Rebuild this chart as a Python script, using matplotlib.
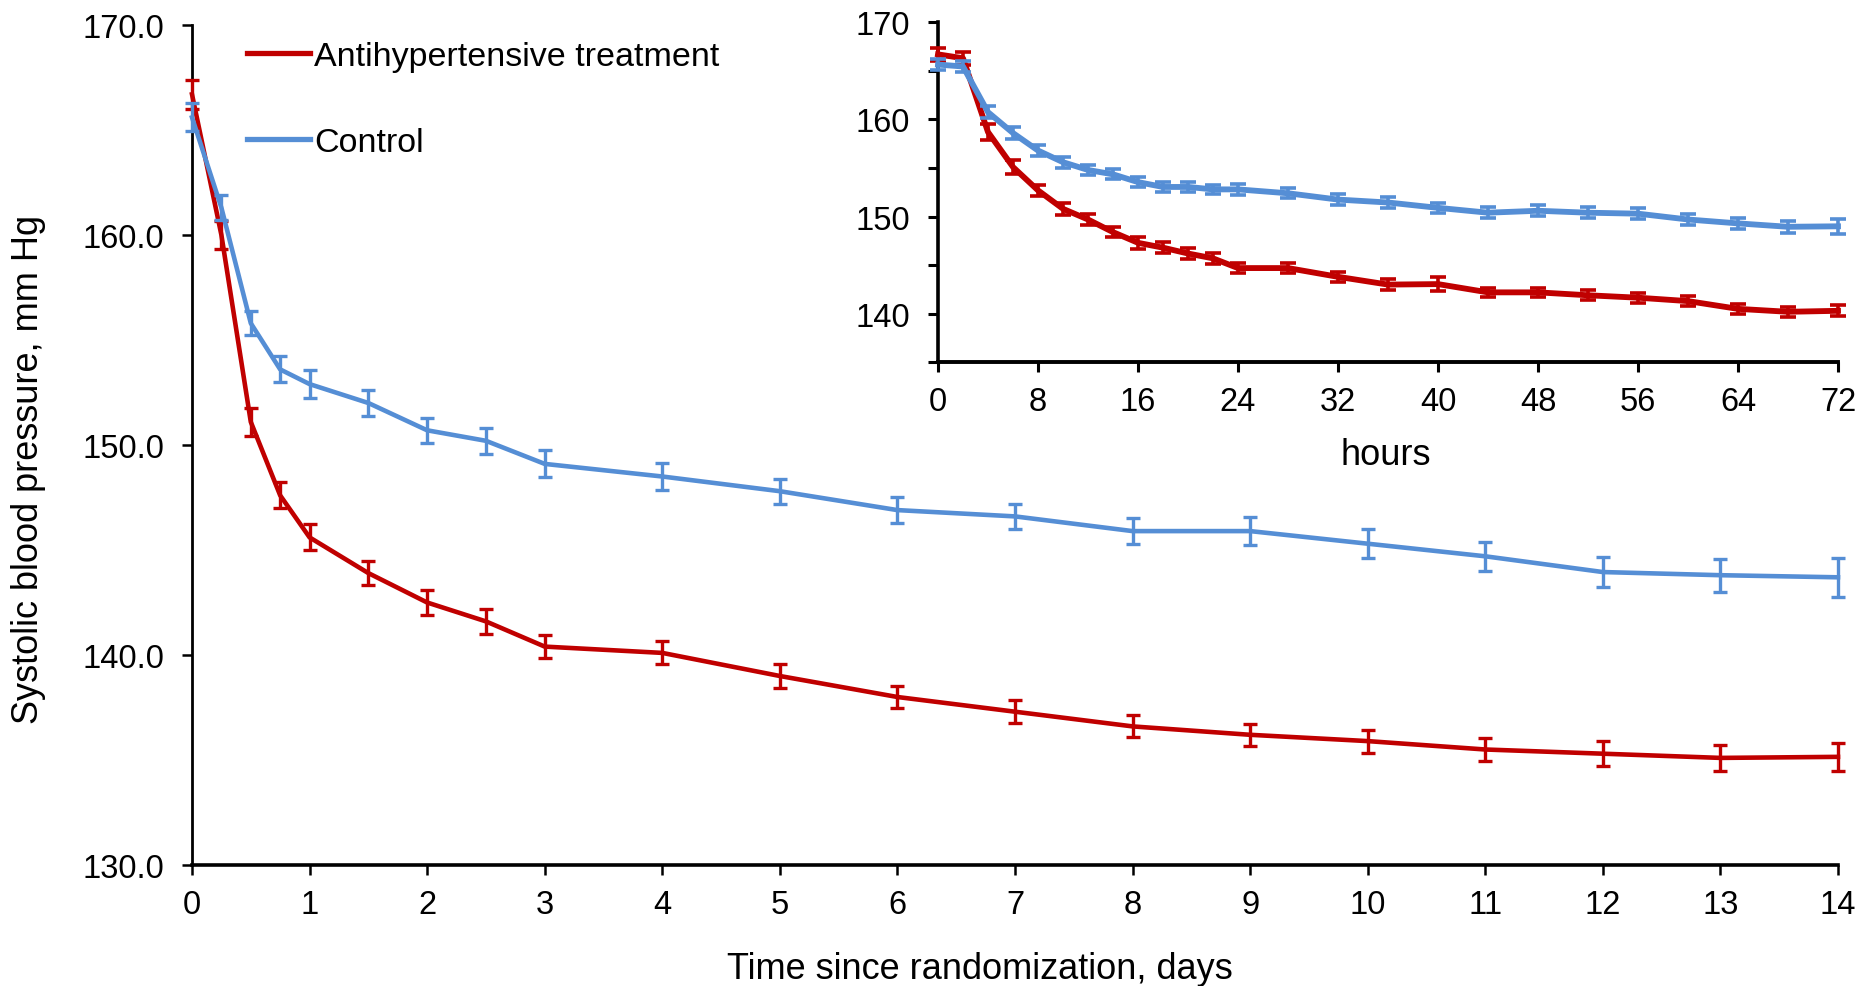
import matplotlib
matplotlib.use("Agg")
import matplotlib.pyplot as plt
from matplotlib.lines import Line2D
from matplotlib.ticker import FixedLocator, FuncFormatter

plt.rcParams['font.family'] = ['Liberation Sans', 'DejaVu Sans']

# ---- main chart data (days) ----
days = [0, 0.25, 0.5, 0.75, 1, 1.5, 2, 2.5, 3, 4, 5, 6, 7, 8, 9, 10, 11, 12, 13, 14]
treat_days = [166.7, 160.0, 151.1, 147.6, 145.6, 143.9, 142.5, 141.6, 140.4, 140.1,
              139.0, 138.0, 137.3, 136.6, 136.2, 135.9, 135.5, 135.3, 135.1, 135.15]
treat_days_err = [0.70, 0.65, 0.68, 0.62, 0.62, 0.58, 0.60, 0.58, 0.56, 0.55,
                  0.55, 0.53, 0.54, 0.52, 0.52, 0.55, 0.56, 0.60, 0.61, 0.68]
ctrl_days = [165.6, 161.3, 155.8, 153.6, 152.9, 152.0, 150.7, 150.2, 149.1, 148.5,
             147.8, 146.9, 146.6, 145.9, 145.9, 145.3, 144.7, 143.95, 143.8, 143.7]
ctrl_days_err = [0.67, 0.60, 0.56, 0.62, 0.66, 0.63, 0.60, 0.61, 0.64, 0.64,
                 0.60, 0.61, 0.60, 0.62, 0.66, 0.70, 0.68, 0.71, 0.78, 0.93]

# ---- inset data (hours) ----
hours = [0, 2, 4, 6, 8, 10, 12, 14, 16, 18, 20, 22, 24, 28, 32, 36, 40, 44, 48, 52, 56, 60, 64, 68, 72]
treat_hours = [166.7, 166.3, 158.7, 155.1, 152.7, 150.8, 149.7, 148.4, 147.3, 146.8, 146.2, 145.7,
               144.7, 144.7, 143.8, 143.0, 143.05, 142.2, 142.2, 141.9, 141.65, 141.3, 140.5, 140.2, 140.3]
treat_hours_err = [0.70, 0.65, 0.80, 0.75, 0.60, 0.60, 0.60, 0.55, 0.60, 0.55, 0.55, 0.55,
                   0.55, 0.55, 0.50, 0.55, 0.70, 0.50, 0.50, 0.50, 0.50, 0.55, 0.50, 0.50, 0.55]
ctrl_hours = [165.65, 165.45, 160.75, 158.6, 156.8, 155.6, 154.8, 154.35, 153.55, 153.05, 153.05, 152.8,
              152.8, 152.4, 151.75, 151.45, 150.9, 150.4, 150.6, 150.4, 150.3, 149.7, 149.3, 148.95, 149.0]
ctrl_hours_err = [0.60, 0.60, 0.60, 0.60, 0.55, 0.55, 0.50, 0.50, 0.50, 0.50, 0.50, 0.50,
                  0.55, 0.50, 0.60, 0.55, 0.55, 0.55, 0.55, 0.55, 0.55, 0.55, 0.55, 0.60, 0.75]

labels = ["Antihypertensive treatment", "Control"]
RED = "#C00000"
BLUE = "#558ED5"

W, H = 1866, 987
fig = plt.figure(figsize=(W / 100, H / 100), dpi=100)

# ---------------- main axes ----------------
ax = fig.add_axes([192 / W, 1 - 866 / H, (1838 - 192) / W, (866 - 26) / H])
ax.errorbar(days, treat_days, yerr=treat_days_err, color=RED, lw=3.3, elinewidth=2.4,
            capsize=5, capthick=2.4, clip_on=False, zorder=3)
ax.errorbar(days, ctrl_days, yerr=ctrl_days_err, color=BLUE, lw=3.3, elinewidth=2.4,
            capsize=5, capthick=2.4, clip_on=False, zorder=4)
ax.set_xlim(0, 14)
ax.set_ylim(130, 170)
ax.set_xticks(range(0, 15))
ax.set_yticks([130, 140, 150, 160, 170])
ax.yaxis.set_major_formatter(FuncFormatter(lambda v, p: f"{v:.1f}"))
for s in ['top', 'right']:
    ax.spines[s].set_visible(False)
ax.spines['left'].set_linewidth(2.0)
ax.spines['bottom'].set_linewidth(2.6)
ax.tick_params(axis='both', direction='out', length=7, width=1.8, labelsize=23.5)
ax.tick_params(axis='y', pad=13)
ax.tick_params(axis='x', pad=10)
ax.set_xlabel("Time since randomization, days", fontsize=26)
ax.set_ylabel("Systolic blood pressure, mm Hg", fontsize=26)
ax.xaxis.set_label_coords((980 - 192) / (1838 - 192), -(952 - 866) / (866 - 26))
ax.yaxis.set_label_coords(-(192 - 46) / (1838 - 192), (866 - 469) / (866 - 26))

handles = [Line2D([], [], color=RED, lw=3.8), Line2D([], [], color=BLUE, lw=3.8)]
fig.legend(handles, labels, loc='upper left', bbox_to_anchor=(247 / W, 1 - 42 / H),
           frameon=False, fontsize=24.5, handlelength=1.85, handletextpad=0.12,
           labelspacing=1.62, borderpad=0, borderaxespad=0)

# ---------------- inset axes ----------------
ins = fig.add_axes([938 / W, 1 - 363.3 / H, 900 / W, (363.3 - 23.3) / H])
ins.patch.set_alpha(0)
ins.errorbar(hours, treat_hours, yerr=treat_hours_err, color=RED, lw=4.2, elinewidth=2.6,
             capsize=5.5, capthick=2.6, clip_on=False, zorder=3)
ins.errorbar(hours, ctrl_hours, yerr=ctrl_hours_err, color=BLUE, lw=4.2, elinewidth=2.6,
             capsize=5.5, capthick=2.6, clip_on=False, zorder=4)
ins.set_xlim(0, 72)
ins.set_ylim(135, 170)
ins.set_xticks(range(0, 73, 8))
ins.yaxis.set_major_locator(FixedLocator([135, 140, 145, 150, 155, 160, 165, 170]))
ins.yaxis.set_major_formatter(FuncFormatter(lambda v, p: f"{int(v)}" if int(v) % 10 == 0 and v > 135 else ""))
for s in ['top', 'right']:
    ins.spines[s].set_visible(False)
ins.spines['left'].set_linewidth(2.6)
ins.spines['bottom'].set_linewidth(2.8)
ins.tick_params(axis='both', direction='out', length=7, width=2.2, labelsize=23.5)
ins.tick_params(axis='y', pad=13)
ins.tick_params(axis='x', pad=10)
ins.set_xlabel("hours", fontsize=26)
ins.xaxis.set_label_coords(0.498, -(438 - 363.3) / 340)

fig.savefig("out.png", dpi=100)
